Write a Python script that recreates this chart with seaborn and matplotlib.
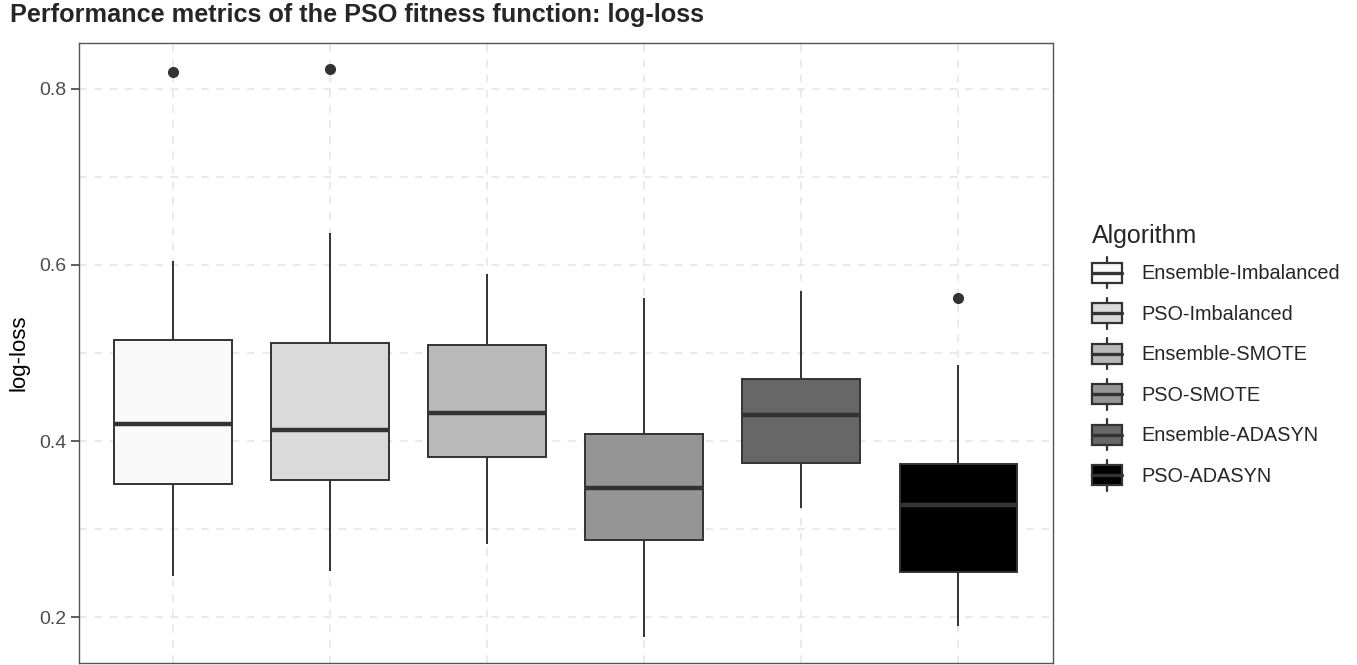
import numpy as np
import pandas as pd
import matplotlib
matplotlib.use("Agg")
import matplotlib.pyplot as plt
import seaborn as sns
from matplotlib.legend_handler import HandlerBase
from matplotlib.patches import Rectangle, Patch
from matplotlib.lines import Line2D

# summary values
algorithms = ["Ensemble-Imbalanced", "PSO-Imbalanced", "Ensemble-SMOTE",
              "PSO-SMOTE", "Ensemble-ADASYN", "PSO-ADASYN"]
lower_whisker = [0.247, 0.252, 0.283, 0.178, 0.324, 0.190]
q1 = [0.351, 0.356, 0.382, 0.288, 0.375, 0.251]
median = [0.419, 0.413, 0.432, 0.347, 0.430, 0.327]
q3 = [0.515, 0.511, 0.509, 0.408, 0.471, 0.374]
upper_whisker = [0.605, 0.636, 0.590, 0.563, 0.570, 0.486]
outliers = [[0.819], [0.822], [], [], [], [0.562]]
fills = ["#F9F9F9", "#DADADA", "#B9B9B9", "#959595", "#676767", "#000000"]

# rebuild 13 values per group that give exactly these quartiles
rows = []
for i, alg in enumerate(algorithms):
    vals = ([lower_whisker[i]] + [q1[i]] * 3 + [median[i]] * 3 + [q3[i]] * 3
            + [upper_whisker[i]] * (3 - len(outliers[i])) + outliers[i])
    for v in vals:
        rows.append({"Algorithm": alg, "value": v})
df = pd.DataFrame(rows)

sns.set_style("white")
plt.rcParams["font.family"] = ["Liberation Sans", "DejaVu Sans"]

fig = plt.figure(figsize=(13.57, 6.65), dpi=100)
ax = fig.add_axes([78.7 / 1357, 2 / 665, 974 / 1357, 620 / 665])

line_col = "#333333"
sns.boxplot(data=df, x="Algorithm", y="value", hue="Algorithm", order=algorithms,
            hue_order=algorithms, palette=fills, width=0.75, linewidth=1.4,
            linecolor=line_col, whis=1.5, legend=False, showcaps=False,
            medianprops=dict(linewidth=3.2, color=line_col),
            flierprops=dict(marker="o", markerfacecolor=line_col,
                            markeredgecolor=line_col, markersize=7),
            ax=ax, zorder=3)

ax.set_xlim(-0.6, 5.6)
ax.set_ylim(0.148, 0.852)
ax.set_yticks([0.2, 0.4, 0.6, 0.8])
ax.set_yticklabels(["0.2", "0.4", "0.6", "0.8"])
ax.set_yticks([0.3, 0.5, 0.7], minor=True)
ax.set_xticklabels([])
ax.set_xlabel("")
ax.tick_params(axis="x", length=0)
ax.tick_params(axis="y", which="major", length=6, width=1.1, color="#333333", pad=3,
               labelsize=14, labelcolor="#4d4d4d", left=True)
ax.tick_params(axis="y", which="minor", length=0)

grid_kw = dict(color="#e4e4e4", linestyle=(0, (5, 5)), linewidth=1.1)
ax.grid(True, which="major", axis="both", **grid_kw)
ax.grid(True, which="minor", axis="y", **grid_kw)
ax.set_axisbelow(True)
for s in ax.spines.values():
    s.set_visible(True)
    s.set_color("#555555")
    s.set_linewidth(1.0)

ax.set_ylabel("log-loss", fontsize=16, color="black")
ax.yaxis.set_label_coords(-0.05, 0.5)

fig.text(10 / 1357, 1 - 15 / 665, "Performance metrics of the PSO fitness function: log-loss",
         fontsize=18.2, fontweight="bold", ha="left", va="center")


class BoxHandler(HandlerBase):
    def create_artists(self, legend, orig_handle, xdescent, ydescent,
                       width, height, fontsize, trans):
        fc = orig_handle.get_facecolor()
        x0, y0 = -xdescent, -ydescent
        cx = x0 + width / 2
        box = Rectangle((x0, y0 + height * 0.18), width, height * 0.64,
                        facecolor=fc, edgecolor=line_col, linewidth=1.6, transform=trans)
        med = Line2D([x0, x0 + width], [y0 + height * 0.5] * 2,
                     color=line_col, linewidth=2.4, transform=trans)
        w1 = Line2D([cx, cx], [y0, y0 + height * 0.18], color=line_col, linewidth=1.6, transform=trans)
        w2 = Line2D([cx, cx], [y0 + height * 0.82, y0 + height], color=line_col, linewidth=1.6, transform=trans)
        return [box, w1, w2, med]


handles = [Patch(facecolor=c) for c in fills]
leg = fig.legend(handles, algorithms, loc="upper left",
                 bbox_to_anchor=(1074 / 1357, 1 - 206 / 665),
                 frameon=False, fontsize=14.3, title="Algorithm", title_fontsize=18,
                 handlelength=1.51, handleheight=2.02, labelspacing=0.48,
                 handletextpad=0.96, alignment="left",
                 handler_map={Patch: BoxHandler()})

fig.savefig("out.png", dpi=100)
